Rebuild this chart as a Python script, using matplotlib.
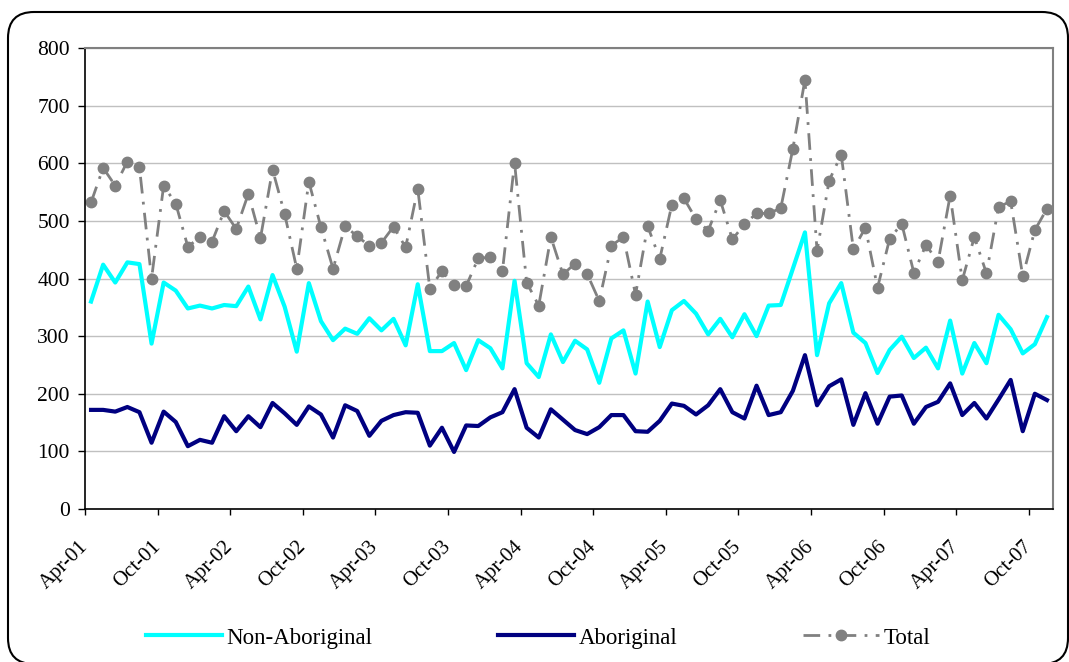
import numpy as np
import matplotlib
matplotlib.use("Agg")
import matplotlib.pyplot as plt
from matplotlib.patches import FancyBboxPatch

# monthly counts, Apr-01 .. Nov-07
tick_labels = ['Apr-01', 'Oct-01', 'Apr-02', 'Oct-02', 'Apr-03', 'Oct-03', 'Apr-04',
               'Oct-04', 'Apr-05', 'Oct-05', 'Apr-06', 'Oct-06', 'Apr-07', 'Oct-07']

non_aboriginal = [360, 424, 393, 428, 425, 287, 393, 379, 348, 353, 348, 354, 352, 386, 329, 406, 351, 273, 392, 326,
                  293, 313, 304, 331, 310, 330, 284, 390, 274, 274, 288, 241, 293, 279, 244, 396, 253, 229, 303, 255,
                  292, 277, 219, 296, 310, 235, 360, 281, 345, 361, 339, 303, 330, 298, 338, 300, 353, 354, 417, 480,
                  267, 357, 392, 306, 288, 236, 276, 299, 262, 280, 244, 327, 235, 288, 253, 337, 312, 270, 286, 333]

aboriginal = [172, 172, 169, 177, 168, 115, 169, 151, 109, 120, 115, 161, 135, 161, 142, 184, 166, 146, 178, 164,
              124, 180, 170, 127, 153, 163, 168, 167, 110, 141, 99, 145, 144, 159, 168, 208, 141, 124, 173, 155,
              137, 130, 142, 163, 163, 135, 134, 153, 183, 179, 164, 180, 208, 168, 157, 214, 163, 168, 205, 267,
              180, 213, 225, 146, 201, 148, 195, 197, 148, 177, 186, 218, 163, 184, 157, 190, 224, 135, 200, 189]

total = [532, 592, 561, 603, 593, 400, 561, 530, 455, 472, 464, 517, 486, 547, 470, 589, 512, 417, 568, 489,
         417, 491, 473, 457, 462, 490, 454, 556, 382, 413, 388, 387, 435, 437, 413, 601, 393, 353, 472, 407,
         426, 408, 361, 457, 472, 372, 491, 434, 528, 539, 503, 483, 536, 468, 494, 513, 513, 522, 625, 745,
         448, 570, 615, 451, 488, 384, 469, 495, 410, 458, 429, 544, 397, 472, 409, 524, 534, 404, 484, 521]

plt.rcParams['font.family'] = ['Liberation Serif', 'DejaVu Serif']

W, H = 1069, 662
fig = plt.figure(figsize=(W / 100, H / 100), dpi=100)
ax = fig.add_axes([85 / W, 1 - 509 / H, (1053 - 85) / W, (509 - 48) / H])

x = np.arange(len(total)) + 0.5
ax.plot(x, non_aboriginal, color='#00ffff', lw=3, label='Non-Aboriginal')
ax.plot(x, aboriginal, color='#000080', lw=3, label='Aboriginal')
ax.plot(x, total, color='#808080', lw=2, ls=(0, (6, 3, 1, 3)), marker='o', ms=7.5,
        label='Total')

ax.set_xlim(0, len(total))
ax.set_ylim(0, 800)
ax.set_xticks(np.arange(0, len(total), 6))
ax.set_xticklabels(tick_labels, rotation=45, ha='right', va='center', rotation_mode='anchor')
ax.set_yticks(np.arange(0, 801, 100))
ax.grid(axis='y', color='#c0c0c0', lw=1)
ax.set_axisbelow(True)

for s in ['top', 'right']:
    ax.spines[s].set_color('#808080')
    ax.spines[s].set_linewidth(1.5)
for s in ['left', 'bottom']:
    ax.spines[s].set_linewidth(1.2)
ax.tick_params(axis='y', direction='out', length=5, width=1, labelsize=15.5, pad=6)
ax.tick_params(axis='x', direction='out', length=4, width=1, labelsize=15, pad=21)

fig.legend(loc='center', bbox_to_anchor=(538 / W, 1 - 638 / H), ncol=3, frameon=False,
           fontsize=16.5, handlelength=3.3, handletextpad=0.2, columnspacing=5.5)

# rounded chart border, partly off the canvas
frame = FancyBboxPatch((8, -2), 1060, 652, boxstyle='round,pad=0,rounding_size=26',
                       transform=None, fill=False, edgecolor='black', lw=1.5)
fig.add_artist(frame)

fig.savefig('out.png', dpi=100)
